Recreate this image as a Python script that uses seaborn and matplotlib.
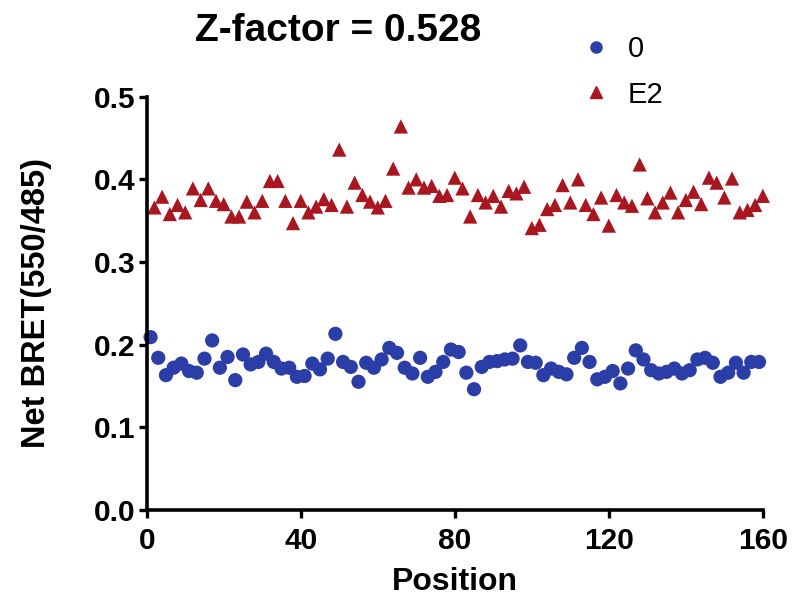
import numpy as np
import pandas as pd
import seaborn as sns
import matplotlib.pyplot as plt
from matplotlib.lines import Line2D

# Net BRET per plate position
pos_0 = list(range(1, 160, 2))
bret_0 = [
    0.209, 0.184, 0.163, 0.172, 0.177, 0.168, 0.166, 0.183, 0.205, 0.172,
    0.185, 0.157, 0.188, 0.176, 0.179, 0.189, 0.179, 0.171, 0.172, 0.161,
    0.162, 0.177, 0.170, 0.183, 0.213, 0.179, 0.173, 0.155, 0.178, 0.172,
    0.182, 0.196, 0.190, 0.172, 0.165, 0.184, 0.161, 0.167, 0.179, 0.194,
    0.191, 0.166, 0.146, 0.173, 0.179, 0.180, 0.182, 0.183, 0.199, 0.179,
    0.178, 0.163, 0.171, 0.167, 0.164, 0.184, 0.196, 0.179, 0.158, 0.161,
    0.168, 0.153, 0.171, 0.193, 0.182, 0.169, 0.165, 0.167, 0.171, 0.165,
    0.169, 0.182, 0.184, 0.178, 0.161, 0.166, 0.178, 0.166, 0.179, 0.179,
]
pos_e2 = list(range(2, 161, 2))
bret_e2 = [
    0.366, 0.379, 0.358, 0.369, 0.360, 0.389, 0.375, 0.389, 0.374, 0.370,
    0.355, 0.355, 0.373, 0.360, 0.374, 0.398, 0.398, 0.374, 0.347, 0.374,
    0.360, 0.367, 0.376, 0.369, 0.436, 0.367, 0.396,
    0.381, 0.373, 0.366, 0.374, 0.413, 0.464, 0.390, 0.400, 0.390, 0.392,
    0.380, 0.381, 0.402, 0.389, 0.355, 0.381, 0.372, 0.380, 0.367, 0.386,
    0.383, 0.391, 0.341, 0.345, 0.364, 0.369,
    0.393, 0.372, 0.400, 0.369, 0.358, 0.378, 0.344, 0.381, 0.372, 0.368,
    0.418, 0.377, 0.360, 0.372, 0.384, 0.360, 0.375, 0.385, 0.370, 0.402,
    0.396, 0.378, 0.401, 0.360, 0.363, 0.369, 0.380,
]
groups = ["0", "E2"]
x_ticks = [0, 40, 80, 120, 160]
y_ticks = [0.0, 0.1, 0.2, 0.3, 0.4, 0.5]

blue = "#2B3DA6"
red = "#A8161F"

df = pd.concat([
    pd.DataFrame({"Position": pos_0, "bret": bret_0, "group": groups[0]}),
    pd.DataFrame({"Position": pos_e2, "bret": bret_e2, "group": groups[1]}),
])

sns.set_style("ticks")
plt.rcParams["font.family"] = ["Liberation Sans", "DejaVu Sans"]
plt.rcParams["text.color"] = "black"
plt.rcParams["axes.labelcolor"] = "black"
plt.rcParams["xtick.color"] = "black"
plt.rcParams["ytick.color"] = "black"

fig = plt.figure(figsize=(7.93, 5.97), dpi=100)
ax = fig.add_axes([0.185, 0.146, 0.777, 0.692])

sns.scatterplot(
    df, x="Position", y="bret", hue="group", style="group",
    palette={"0": blue, "E2": red}, markers={"0": "o", "E2": "^"},
    s=105, linewidth=0, legend=False, clip_on=False, ax=ax,
)

ax.set_xlim(0, 160)
ax.set_ylim(0, 0.5)
ax.set_xticks(x_ticks)
ax.set_yticks(y_ticks)
ax.set_yticklabels([f"{v:.1f}" for v in y_ticks])
sns.despine(ax=ax)
for side in ["left", "bottom"]:
    ax.spines[side].set_linewidth(2.6)
    ax.spines[side].set_color("black")
ax.tick_params(length=6, width=2.4, labelsize=21.5, color="black",
               labelcolor="black")
ax.tick_params(axis="x", pad=6)
ax.tick_params(axis="y", pad=2)
for lbl in ax.get_xticklabels() + ax.get_yticklabels():
    lbl.set_fontweight("bold")

ax.set_xlabel("Position", fontsize=23, fontweight="bold", labelpad=9)
ax.set_ylabel("Net BRET(550/485)", fontsize=23.5, fontweight="bold", labelpad=30)

fig.text(0.426, 0.948, "Z-factor = 0.528", ha="center", va="center",
         fontsize=28, fontweight="bold")

# Legend
handles = [
    Line2D([], [], linestyle="", marker="o", color=blue, markersize=8),
    Line2D([], [], linestyle="", marker="^", color=red, markersize=8),
]
fig.legend(handles, groups, loc="upper left", bbox_to_anchor=(0.7, 0.985),
           frameon=False, fontsize=21, handletextpad=0.6, labelspacing=0.6,
           handlelength=1.0)

plt.savefig("out.png", dpi=100)
